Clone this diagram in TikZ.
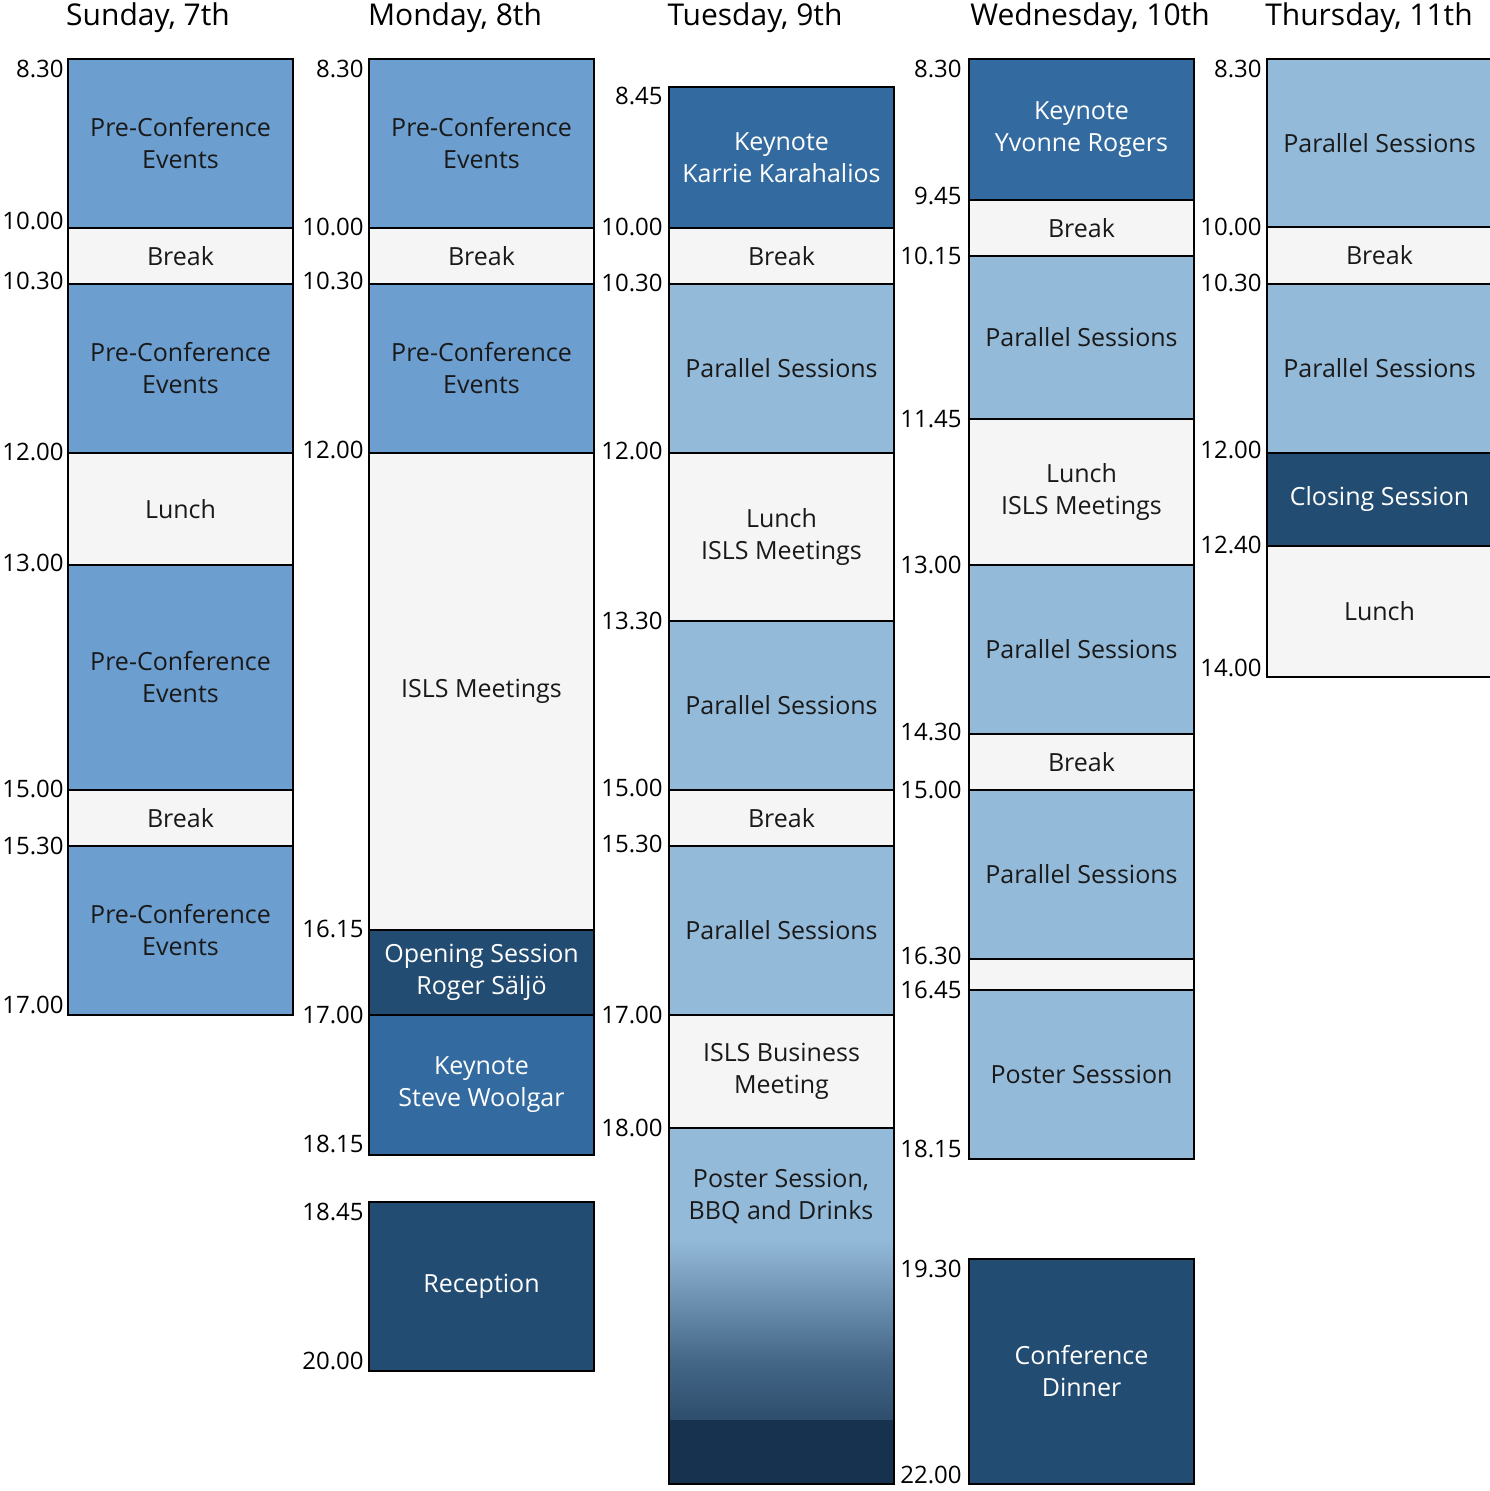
\documentclass[tikz,border=0pt]{standalone}
\usepackage{fontspec}
\setmainfont{Open Sans}
\definecolor{pre}{HTML}{6C9FD0}
\definecolor{brk}{HTML}{F5F5F5}
\definecolor{par}{HTML}{94BADA}
\definecolor{key}{HTML}{336BA1}
\definecolor{drk}{HTML}{234C72}
\definecolor{drk2}{HTML}{17324F}
\tikzset{box/.style={draw=black,line width=0.8pt},
 lab/.style={align=center,font=\fontsize{12.5}{16}\selectfont,text=black!90},
 wlab/.style={lab,text=white},
 tim/.style={anchor=east,font=\fontsize{12}{14}\selectfont,inner sep=1pt},
 hd/.style={font=\fontsize{15}{18}\selectfont}}
\newcommand{\slot}[6]{% x y1 y2 fill labstyle text
 \path[box,fill=#4] (#1,#2) rectangle ++(225,#3-#2);
 \node[#5] (n#1x#2) at ({#1+112.5},{(#2+#3)/2}) {#6};}
\newcommand{\tm}[3]{\node[tim] (t#1x#2) at (#1,#2) {#3};}
\begin{document}
\begin{tikzpicture}[x=0.5pt,y=-0.5pt]
\useasboundingbox (0,0) rectangle (1489,1491);
% headers
\node[hd] (h1) at (148,18) {Sunday, 7th};
\node[hd] (h2) at (455,18) {Monday, 8th};
\node[hd] (h3) at (755,18) {Tuesday, 9th};
\node[hd] (h4) at (1090,18) {Wednesday, 10th};
\node[hd] (h5) at (1369,18) {Thursday, 11th};
% Sunday
\slot{68}{59}{228}{pre}{lab}{Pre-Conference\\Events}
\slot{68}{228}{284}{brk}{lab}{Break}
\slot{68}{284}{453}{pre}{lab}{Pre-Conference\\Events}
\slot{68}{453}{565}{brk}{lab}{Lunch}
\slot{68}{565}{790}{pre}{lab}{Pre-Conference\\Events}
\slot{68}{790}{846}{brk}{lab}{Break}
\slot{68}{846}{1015}{pre}{lab}{Pre-Conference\\Events}
\tm{66}{69}{8.30}\tm{66}{221}{10.00}\tm{66}{281}{10.30}\tm{66}{452}{12.00}
\tm{66}{563}{13.00}\tm{66}{789}{15.00}\tm{66}{846}{15.30}\tm{66}{1005}{17.00}
% Monday
\slot{369}{59}{228}{pre}{lab}{Pre-Conference\\Events}
\slot{369}{228}{284}{brk}{lab}{Break}
\slot{369}{284}{453}{pre}{lab}{Pre-Conference\\Events}
\slot{369}{453}{930}{brk}{lab}{ISLS Meetings}
\slot{369}{930}{1015}{drk}{wlab}{Opening Session\\Roger Säljö}
\slot{369}{1015}{1155}{key}{wlab}{Keynote\\Steve Woolgar}
\slot{369}{1202}{1371}{drk}{wlab}{Reception}
\tm{366}{69}{8.30}\tm{366}{227}{10.00}\tm{366}{281}{10.30}\tm{366}{450}{12.00}
\tm{366}{929}{16.15}\tm{366}{1015}{17.00}\tm{366}{1144}{18.15}\tm{366}{1212}{18.45}\tm{366}{1361}{20.00}
% Tuesday
\slot{669}{87}{228}{key}{wlab}{Keynote\\Karrie Karahalios}
\slot{669}{228}{284}{brk}{lab}{Break}
\slot{669}{284}{453}{par}{lab}{Parallel Sessions}
\slot{669}{453}{621}{brk}{lab}{Lunch\\ISLS Meetings}
\slot{669}{621}{790}{par}{lab}{Parallel Sessions}
\slot{669}{790}{846}{brk}{lab}{Break}
\slot{669}{846}{1015}{par}{lab}{Parallel Sessions}
\slot{669}{1015}{1128}{brk}{lab}{ISLS Business\\Meeting}
\fill[par] (669,1128) rectangle (894,1240);
\shade[top color=par,bottom color=drk2,middle color=drk!85] (669,1239) rectangle (894,1484);
\fill[drk2] (669,1420) rectangle (894,1484);
\draw[box] (669,1128) rectangle (894,1484);
\node[lab] (poster) at (781,1196) {Poster Session,\\BBQ and Drinks};
\tm{665}{96}{8.45}\tm{665}{227}{10.00}\tm{665}{283}{10.30}\tm{665}{451}{12.00}
\tm{665}{621}{13.30}\tm{665}{788}{15.00}\tm{665}{844}{15.30}\tm{665}{1015}{17.00}\tm{665}{1128}{18.00}
% Wednesday
\slot{969}{59}{200}{key}{wlab}{Keynote\\Yvonne Rogers}
\slot{969}{200}{256}{brk}{lab}{Break}
\slot{969}{256}{419}{par}{lab}{Parallel Sessions}
\slot{969}{419}{565}{brk}{lab}{Lunch\\ISLS Meetings}
\slot{969}{565}{734}{par}{lab}{Parallel Sessions}
\slot{969}{734}{790}{brk}{lab}{Break}
\slot{969}{790}{959}{par}{lab}{Parallel Sessions}
\slot{969}{959}{990}{brk}{lab}{}
\slot{969}{990}{1159}{par}{lab}{Poster Sesssion}
\slot{969}{1259}{1484}{drk}{wlab}{Conference\\Dinner}
\tm{964}{69}{8.30}\tm{964}{196}{9.45}\tm{964}{256}{10.15}\tm{964}{419}{11.45}
\tm{964}{565}{13.00}\tm{964}{732}{14.30}\tm{964}{790}{15.00}\tm{964}{956}{16.30}
\tm{964}{990}{16.45}\tm{964}{1149}{18.15}\tm{964}{1269}{19.30}\tm{964}{1475}{22.00}
% Thursday
\slot{1267}{59}{227}{par}{lab}{Parallel Sessions}
\slot{1267}{227}{284}{brk}{lab}{Break}
\slot{1267}{284}{453}{par}{lab}{Parallel Sessions}
\slot{1267}{453}{546}{drk}{wlab}{Closing Session}
\slot{1267}{546}{677}{brk}{lab}{Lunch}
\tm{1264}{69}{8.30}\tm{1264}{227}{10.00}\tm{1264}{283}{10.30}\tm{1264}{450}{12.00}
\tm{1264}{545}{12.40}\tm{1264}{668}{14.00}
\end{tikzpicture}
\end{document}
